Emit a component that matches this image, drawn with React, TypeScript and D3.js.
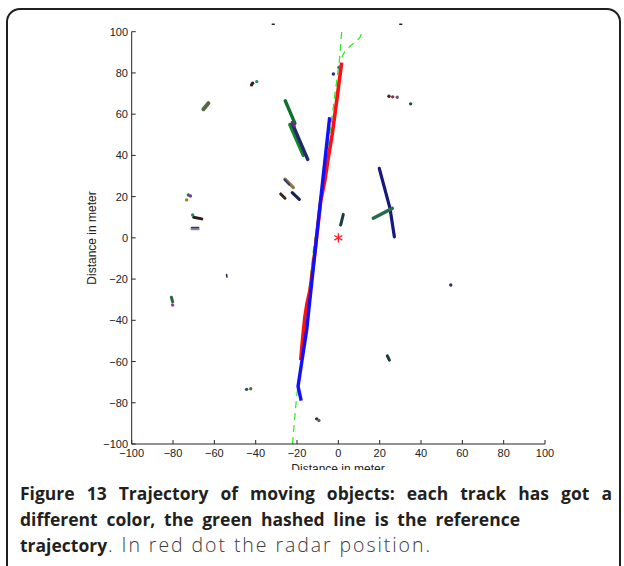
import React, { useLayoutEffect, useRef } from "react";
import * as d3 from "d3";

type P = [number, number];

// ---- axis ticks ----
const xTicks = [-100, -80, -60, -40, -20, 0, 20, 40, 60, 80, 100];
const yTicks = [-100, -80, -60, -40, -20, 0, 20, 40, 60, 80, 100];

// ---- reference trajectory (green dashed) ----
const referenceMain: P[] = [[-22.2, -100], [-20.2, -77], [-17.7, -57.7], [-12.1, -6], [-7.3, 26.5], [0.5, 86], [1.6, 100]];
const referenceBranch: P[] = [[1.6, 87.5], [3.2, 90.5], [6, 93.3], [8.5, 95.3], [10.5, 97.3], [11.5, 100]];

// ---- main tracks ----
const redTrack: P[] = [[1.6, 85], [-1, 65], [-3, 50], [-5, 38], [-6.5, 28], [-8.5, 18], [-10, 5], [-11.5, -8], [-13.7, -25.3], [-15.2, -32], [-16.2, -38.4], [-17.3, -49], [-18.2, -59.3]];
const blueTrack: P[] = [[-4.2, 58.5], [-6.5, 37.5], [-9.5, 10], [-12.7, -20], [-15.3, -44.5], [-19.5, -72], [-18, -79]];

// ---- other tracks ----
const greenTrackA: P[] = [[-25.7, 66.5], [-21, 55.5]];
const greenTrackB: P[] = [[-23.5, 55], [-17, 40]];
const navyTrackA: P[] = [[-22.3, 55.5], [-14.8, 38]];
const purpleTrack: P[] = [[-22.3, 56], [-21.4, 54.3]];
const navyTrackB: P[] = [[19.8, 33.7], [25, 14.3], [27.1, 0.5]];
const tealTrack: P[] = [[16.9, 9.5], [26.1, 14.3]];
const oliveTrack: P[] = [[-25.8, 28.4], [-21.8, 24.4]];
const oliveNavyTrack: P[] = [[-26, 28.2], [-23.8, 25.8]];
const brownTrack: P[] = [[-27.9, 21.3], [-25.8, 19.2]];
const darkNavyTrack: P[] = [[-22.3, 21.9], [-18.9, 18.7]];
const darkTealTrack: P[] = [[1.1, 6.2], [2.4, 11.4]];
const blobTrack: P[] = [[-65.3, 62.4], [-62.9, 65.3]];
const darkLeftTrack: P[] = [[-70, 10], [-66.1, 9.2]];
const grayTrack: P[] = [[-71, 4.3], [-67.7, 4.3]];
const grayNavyTrack: P[] = [[-71, 5], [-67.7, 5]];
const clusterTrack: P[] = [[-80.8, -28.8], [-80.2, -31]];
const smallDash: P[] = [[-54.1, -17.8], [-53.9, -19]];
const lowTealTrack: P[] = [[23.7, -57.2], [24.7, -59.3]];
const topDashA: P[] = [[-32, 103.6], [-31, 103.6]];
const topDashB: P[] = [[29.7, 103.6], [30.7, 103.6]];

const trackList: { pts: P[]; color: string; width: number }[] = [
  { pts: greenTrackA, color: "#0f7030", width: 3.4 },
  { pts: greenTrackB, color: "#14862c", width: 3.4 },
  { pts: navyTrackA, color: "#1f2a66", width: 3.4 },
  { pts: purpleTrack, color: "#6a2a8c", width: 3.2 },
  { pts: navyTrackB, color: "#15187e", width: 3.2 },
  { pts: tealTrack, color: "#276a4e", width: 3.4 },
  { pts: oliveTrack, color: "#8c7a48", width: 3.4 },
  { pts: oliveNavyTrack, color: "#2e3c78", width: 2 },
  { pts: brownTrack, color: "#3a2612", width: 3 },
  { pts: darkNavyTrack, color: "#15244a", width: 3.2 },
  { pts: darkTealTrack, color: "#1e3c40", width: 3 },
  { pts: blobTrack, color: "#56683e", width: 4 },
  { pts: darkLeftTrack, color: "#2c1c14", width: 3 },
  { pts: grayTrack, color: "#8c8a9a", width: 2.5 },
  { pts: grayNavyTrack, color: "#2c3a6c", width: 1.6 },
  { pts: clusterTrack, color: "#2a6a3c", width: 3 },
  { pts: smallDash, color: "#2a2a4a", width: 1.6 },
  { pts: lowTealTrack, color: "#1e3c40", width: 3 },
  { pts: topDashA, color: "#222222", width: 1.4 },
  { pts: topDashB, color: "#222222", width: 1.4 },
];

// ---- isolated detections (dots) ----
const dotX = [-41.5, -42, -39.5, -72.6, -71.6, -73.4, -70.5, -2.4, 0.3, 24.5, 26.3, 28.5, 35, -44.4, -42.4, -10.5, -9.4, 54.4, -80.2];
const dotY = [75, 74.2, 75.8, 20.8, 20.3, 18.4, 11.1, 79.5, 82.8, 68.7, 68.4, 68.2, 65, -73.5, -73.2, -87.8, -88.6, -22.9, -32.6];
const dotColor = ["#1c2266", "#4a2010", "#2a8a5a", "#2a7a3a", "#8a2ab0", "#8a8a20", "#1f8a70", "#1c2ea0", "#5a5a7a", "#5a1a2a", "#8a2a3a", "#6a5a7a", "#1e4a4a", "#1e5a5a", "#6a6a30", "#3a2a4a", "#5a6a5a", "#2a2a7a", "#8a3ab0"];

const radarX = [0];
const radarY = [0];

const captionBold1 = "Figure 13 Trajectory of moving objects: each track has got a";
const captionBold2 = "different color, the green hashed line is the reference";
const captionBold3 = "trajectory";
const captionNormal3 = ". In red dot the radar position.";
const axisLabel = "Distance in meter";

function fitWords(el: SVGTextElement | null, target: number) {
  if (!el) return;
  el.setAttribute("word-spacing", "0");
  const w = el.getComputedTextLength();
  const text = el.textContent || "";
  const spaces = text.split(" ").length - 1;
  if (spaces > 0) el.setAttribute("word-spacing", String((target - w) / spaces));
}

function fitLetters(el: SVGTextElement | null, target: number) {
  if (!el) return;
  el.setAttribute("letter-spacing", "0");
  const w = el.getComputedTextLength();
  const n = (el.textContent || "").length;
  if (n > 1) el.setAttribute("letter-spacing", String((target - w) / n));
}

export default function App() {
  const line1Ref = useRef<SVGTextElement>(null);
  const line2Ref = useRef<SVGTextElement>(null);
  const line3Ref = useRef<SVGTextElement>(null);

  const x = d3.scaleLinear().domain([-100, 100]).range([131.7, 545]);
  const y = d3.scaleLinear().domain([-100, 100]).range([444, 31.7]);
  const line = d3.line<P>().x((d) => x(d[0])).y((d) => y(d[1]));
  const star = d3.symbol().type(d3.symbolAsterisk).size(60)();

  useLayoutEffect(() => {
    fitWords(line1Ref.current, 592);
    fitWords(line2Ref.current, 500);
    fitLetters(line3Ref.current, 324);
  }, []);

  const font = "'Liberation Sans', Arial, Helvetica, sans-serif";
  const capFont = "'Open Sans', 'Noto Sans', sans-serif";

  return (
    <svg width={624} height={566} style={{ position: "absolute", left: 0, top: 0, background: "#fff" }}>
      <defs>
        <clipPath id="figclip">
          <rect x={10} y={12} width={606} height={458} />
        </clipPath>
      </defs>
      <rect x={7} y={9} width={613} height={600} rx={13} ry={13} fill="none" stroke="#231f20" strokeWidth={2} />
      <g clipPath="url(#figclip)">
        {/* reference dashed */}
        <path d={line(referenceMain) || ""} fill="none" stroke="#22ee22" strokeWidth={1.2} strokeDasharray="7,5" />
        <path d={line(referenceBranch) || ""} fill="none" stroke="#22ee22" strokeWidth={1.2} strokeDasharray="7,5" />
        {trackList.map((t, i) => (
          <path key={i} d={line(t.pts) || ""} fill="none" stroke={t.color} strokeWidth={t.width} strokeLinecap="round" strokeLinejoin="round" />
        ))}
        <path d={line(redTrack) || ""} fill="none" stroke="#ff1010" strokeWidth={3.6} strokeLinejoin="round" />
        <path d={line(blueTrack) || ""} fill="none" stroke="#1010ff" strokeWidth={3.4} strokeLinejoin="round" />
        {dotX.map((dx, i) => (
          <circle key={i} cx={x(dx)} cy={y(dotY[i])} r={1.7} fill={dotColor[i]} />
        ))}
        {radarX.map((rx, i) => (
          <path key={i} d={star || ""} transform={`translate(${x(rx)},${y(radarY[i])})`} fill="none" stroke="#ff2020" strokeWidth={1.3} />
        ))}
        {/* axes */}
        <line x1={x(-100)} x2={x(100)} y1={y(-100)} y2={y(-100)} stroke="#262626" strokeWidth={1} />
        <line x1={x(-100)} x2={x(-100)} y1={y(-100)} y2={y(100)} stroke="#262626" strokeWidth={1} />
        {xTicks.map((t) => (
          <g key={"x" + t}>
            <line x1={x(t)} x2={x(t)} y1={y(-100)} y2={y(-100) - 4} stroke="#262626" />
            <text x={x(t)} y={457} textAnchor="middle" fontFamily={font} fontSize={11} fill="#222">
              {t < 0 ? "\u2212" + Math.abs(t) : String(t)}
            </text>
          </g>
        ))}
        {yTicks.map((t) => (
          <g key={"y" + t}>
            <line x1={x(-100)} x2={x(-100) + 4} y1={y(t)} y2={y(t)} stroke="#262626" />
            <text x={128} y={y(t) + 4} textAnchor="end" fontFamily={font} fontSize={11} fill="#222">
              {t < 0 ? "\u2212" + Math.abs(t) : String(t)}
            </text>
          </g>
        ))}
        <text x={338} y={473} textAnchor="middle" fontFamily={font} fontSize={12} fill="#222">
          {axisLabel}
        </text>
        <text transform="translate(96,238) rotate(-90)" textAnchor="middle" fontFamily={font} fontSize={12} fill="#222">
          {axisLabel}
        </text>
      </g>
      {/* caption */}
      <text ref={line1Ref} x={20} y={500} fontFamily={capFont} fontWeight={700} fontSize={17.5} fill="#231f20">
        {captionBold1}
      </text>
      <text ref={line2Ref} x={20} y={526} fontFamily={capFont} fontWeight={700} fontSize={17.5} fill="#231f20">
        {captionBold2}
      </text>
      <text x={20} y={552} fontFamily={capFont} fontWeight={700} fontSize={17.5} fill="#231f20">
        {captionBold3}
      </text>
      <text ref={line3Ref} x={108} y={552} fontFamily={capFont} fontWeight={300} fontSize={19.5} fill="#3c3c3c">
        {captionNormal3}
      </text>
    </svg>
  );
}
